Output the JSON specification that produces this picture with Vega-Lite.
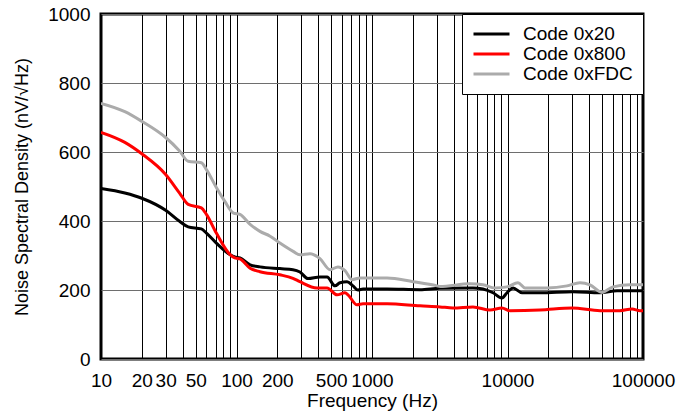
{
  "$schema": "https://vega.github.io/schema/vega-lite/v6.json",
  "width": 542,
  "height": 345,
  "autosize": {"type": "none"},
  "padding": {"left": 101, "top": 14, "right": 44, "bottom": 54},
  "background": "white",
  "config": {
    "font": "Liberation Sans",
    "view": {"stroke": "black", "strokeWidth": 3},
    "axis": {"labelColor": "black", "titleColor": "black", "titleFontWeight": "normal"}
  },
  "data": {
    "values": [
      {"series": "Code 0x20", "f": 10, "v": 494},
      {"series": "Code 0x20", "f": 15, "v": 481},
      {"series": "Code 0x20", "f": 20, "v": 466},
      {"series": "Code 0x20", "f": 30, "v": 431},
      {"series": "Code 0x20", "f": 38, "v": 399},
      {"series": "Code 0x20", "f": 44, "v": 383},
      {"series": "Code 0x20", "f": 55, "v": 377},
      {"series": "Code 0x20", "f": 60, "v": 365},
      {"series": "Code 0x20", "f": 71, "v": 336},
      {"series": "Code 0x20", "f": 90, "v": 302},
      {"series": "Code 0x20", "f": 97, "v": 296},
      {"series": "Code 0x20", "f": 106, "v": 293},
      {"series": "Code 0x20", "f": 126, "v": 273},
      {"series": "Code 0x20", "f": 149, "v": 267},
      {"series": "Code 0x20", "f": 209, "v": 262},
      {"series": "Code 0x20", "f": 261, "v": 259},
      {"series": "Code 0x20", "f": 294, "v": 252},
      {"series": "Code 0x20", "f": 337, "v": 233},
      {"series": "Code 0x20", "f": 413, "v": 238},
      {"series": "Code 0x20", "f": 466, "v": 238},
      {"series": "Code 0x20", "f": 533, "v": 212},
      {"series": "Code 0x20", "f": 581, "v": 221},
      {"series": "Code 0x20", "f": 654, "v": 224},
      {"series": "Code 0x20", "f": 724, "v": 212},
      {"series": "Code 0x20", "f": 788, "v": 200},
      {"series": "Code 0x20", "f": 859, "v": 203},
      {"series": "Code 0x20", "f": 1291, "v": 203},
      {"series": "Code 0x20", "f": 2261, "v": 201},
      {"series": "Code 0x20", "f": 3177, "v": 205},
      {"series": "Code 0x20", "f": 5563, "v": 206},
      {"series": "Code 0x20", "f": 6596, "v": 203},
      {"series": "Code 0x20", "f": 7818, "v": 192},
      {"series": "Code 0x20", "f": 9104, "v": 177},
      {"series": "Code 0x20", "f": 9913, "v": 192},
      {"series": "Code 0x20", "f": 10983, "v": 206},
      {"series": "Code 0x20", "f": 12800, "v": 192},
      {"series": "Code 0x20", "f": 17370, "v": 192},
      {"series": "Code 0x20", "f": 30420, "v": 195},
      {"series": "Code 0x20", "f": 48190, "v": 192},
      {"series": "Code 0x20", "f": 64300, "v": 198},
      {"series": "Code 0x20", "f": 95000, "v": 198},
      {"series": "Code 0x20", "f": 100000, "v": 198},
      {"series": "Code 0x800", "f": 10, "v": 657},
      {"series": "Code 0x800", "f": 15, "v": 628},
      {"series": "Code 0x800", "f": 20, "v": 595},
      {"series": "Code 0x800", "f": 30, "v": 535},
      {"series": "Code 0x800", "f": 38, "v": 481},
      {"series": "Code 0x800", "f": 44, "v": 448},
      {"series": "Code 0x800", "f": 55, "v": 438},
      {"series": "Code 0x800", "f": 60, "v": 419},
      {"series": "Code 0x800", "f": 71, "v": 365},
      {"series": "Code 0x800", "f": 90, "v": 302},
      {"series": "Code 0x800", "f": 97, "v": 293},
      {"series": "Code 0x800", "f": 106, "v": 290},
      {"series": "Code 0x800", "f": 126, "v": 263},
      {"series": "Code 0x800", "f": 149, "v": 253},
      {"series": "Code 0x800", "f": 209, "v": 244},
      {"series": "Code 0x800", "f": 261, "v": 234},
      {"series": "Code 0x800", "f": 294, "v": 224},
      {"series": "Code 0x800", "f": 393, "v": 206},
      {"series": "Code 0x800", "f": 466, "v": 206},
      {"series": "Code 0x800", "f": 552, "v": 186},
      {"series": "Code 0x800", "f": 632, "v": 192},
      {"series": "Code 0x800", "f": 665, "v": 186},
      {"series": "Code 0x800", "f": 775, "v": 157},
      {"series": "Code 0x800", "f": 859, "v": 160},
      {"series": "Code 0x800", "f": 1291, "v": 160},
      {"series": "Code 0x800", "f": 2261, "v": 154},
      {"series": "Code 0x800", "f": 3177, "v": 151},
      {"series": "Code 0x800", "f": 3960, "v": 148},
      {"series": "Code 0x800", "f": 5563, "v": 151},
      {"series": "Code 0x800", "f": 7430, "v": 142},
      {"series": "Code 0x800", "f": 9104, "v": 148},
      {"series": "Code 0x800", "f": 10430, "v": 140},
      {"series": "Code 0x800", "f": 17370, "v": 142},
      {"series": "Code 0x800", "f": 30000, "v": 148},
      {"series": "Code 0x800", "f": 48190, "v": 140},
      {"series": "Code 0x800", "f": 67600, "v": 140},
      {"series": "Code 0x800", "f": 83000, "v": 145},
      {"series": "Code 0x800", "f": 95000, "v": 140},
      {"series": "Code 0x800", "f": 100000, "v": 140},
      {"series": "Code 0xFDC", "f": 10, "v": 741},
      {"series": "Code 0xFDC", "f": 15, "v": 717},
      {"series": "Code 0xFDC", "f": 20, "v": 689},
      {"series": "Code 0xFDC", "f": 30, "v": 642},
      {"series": "Code 0xFDC", "f": 38, "v": 603},
      {"series": "Code 0xFDC", "f": 44, "v": 573},
      {"series": "Code 0xFDC", "f": 55, "v": 569},
      {"series": "Code 0xFDC", "f": 60, "v": 549},
      {"series": "Code 0xFDC", "f": 71, "v": 497},
      {"series": "Code 0xFDC", "f": 82, "v": 457},
      {"series": "Code 0xFDC", "f": 95, "v": 423},
      {"series": "Code 0xFDC", "f": 106, "v": 419},
      {"series": "Code 0xFDC", "f": 126, "v": 390},
      {"series": "Code 0xFDC", "f": 149, "v": 370},
      {"series": "Code 0xFDC", "f": 177, "v": 356},
      {"series": "Code 0xFDC", "f": 209, "v": 336},
      {"series": "Code 0xFDC", "f": 262, "v": 312},
      {"series": "Code 0xFDC", "f": 294, "v": 302},
      {"series": "Code 0xFDC", "f": 349, "v": 305},
      {"series": "Code 0xFDC", "f": 413, "v": 291},
      {"series": "Code 0xFDC", "f": 490, "v": 259},
      {"series": "Code 0xFDC", "f": 561, "v": 267},
      {"series": "Code 0xFDC", "f": 632, "v": 256},
      {"series": "Code 0xFDC", "f": 712, "v": 230},
      {"series": "Code 0xFDC", "f": 815, "v": 235},
      {"series": "Code 0xFDC", "f": 1291, "v": 235},
      {"series": "Code 0xFDC", "f": 2010, "v": 224},
      {"series": "Code 0xFDC", "f": 3020, "v": 212},
      {"series": "Code 0xFDC", "f": 3177, "v": 210},
      {"series": "Code 0xFDC", "f": 5280, "v": 218},
      {"series": "Code 0xFDC", "f": 6596, "v": 215},
      {"series": "Code 0xFDC", "f": 8090, "v": 206},
      {"series": "Code 0xFDC", "f": 9913, "v": 209},
      {"series": "Code 0xFDC", "f": 11950, "v": 221},
      {"series": "Code 0xFDC", "f": 13460, "v": 206},
      {"series": "Code 0xFDC", "f": 19580, "v": 206},
      {"series": "Code 0xFDC", "f": 27500, "v": 212},
      {"series": "Code 0xFDC", "f": 34280, "v": 221},
      {"series": "Code 0xFDC", "f": 40640, "v": 215},
      {"series": "Code 0xFDC", "f": 49800, "v": 193},
      {"series": "Code 0xFDC", "f": 60100, "v": 209},
      {"series": "Code 0xFDC", "f": 80200, "v": 215},
      {"series": "Code 0xFDC", "f": 100000, "v": 215}
    ]
  },
  "mark": {"type": "line", "strokeWidth": 3, "interpolate": "monotone", "clip": true},
  "encoding": {
    "x": {
      "field": "f",
      "type": "quantitative",
      "scale": {"type": "log", "domain": [10, 100000], "nice": false},
      "axis": {
        "title": "Frequency (Hz)",
        "titleFontSize": 19,
        "titlePadding": 1,
        "labelFontSize": 19,
        "labelPadding": 12,
        "labelOverlap": false,
        "labelFlush": false,
        "ticks": false,
        "domain": false,
        "grid": true,
        "gridColor": "black",
        "gridOpacity": 1,
        "gridWidth": 1,
        "values": [10, 20, 30, 40, 50, 60, 70, 80, 90, 100, 200, 300, 400, 500, 600, 700, 800, 900, 1000, 2000, 3000, 4000, 5000, 6000, 7000, 8000, 9000, 10000, 20000, 30000, 40000, 50000, 60000, 70000, 80000, 90000, 100000],
        "labelExpr": "indexof([10,20,30,50,100,200,500,1000,10000,100000], datum.value) >= 0 ? format(datum.value, 'd') : ''"
      }
    },
    "y": {
      "field": "v",
      "type": "quantitative",
      "scale": {"domain": [0, 1000], "nice": false},
      "axis": {
        "title": "Noise Spectral Density (nV/√Hz)",
        "titleFontSize": 18,
        "titlePadding": 16,
        "titleLimit": 500,
        "format": "d",
        "labelFontSize": 19,
        "labelPadding": 11,
        "ticks": false,
        "domain": false,
        "grid": true,
        "gridColor": "#6e6e6e",
        "gridOpacity": 1,
        "gridWidth": 1,
        "values": [0, 200, 400, 600, 800, 1000]
      }
    },
    "color": {
      "field": "series",
      "type": "nominal",
      "scale": {"domain": ["Code 0x20", "Code 0x800", "Code 0xFDC"], "range": ["#000000", "#ff0000", "#ababab"]},
      "legend": {
        "title": null,
        "orient": "top-right",
        "offset": 0,
        "fillColor": "white",
        "strokeColor": "black",
        "padding": 10,
        "symbolType": "stroke",
        "symbolSize": 1296,
        "symbolStrokeWidth": 3,
        "labelFontSize": 19,
        "labelColor": "black",
        "labelOffset": 12,
        "clipHeight": 20,
        "rowPadding": 0
      }
    }
  }
}
